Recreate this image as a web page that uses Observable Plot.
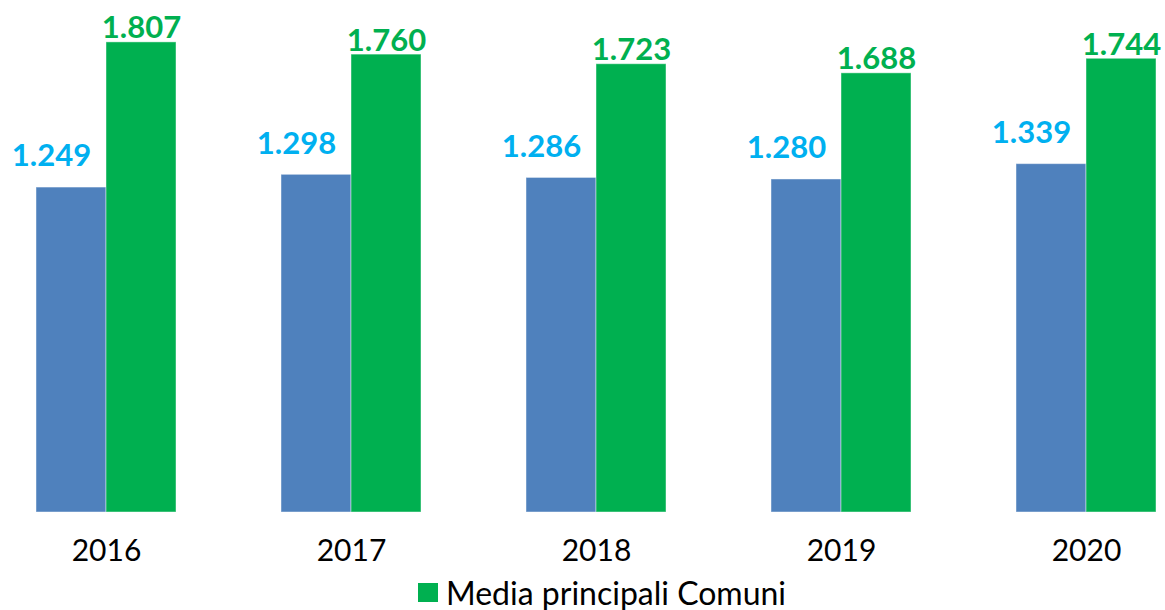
<!DOCTYPE html>
<html>
<head>
<meta charset="utf-8">
<script src="https://cdn.jsdelivr.net/npm/d3@7"></script>
<script src="https://cdn.jsdelivr.net/npm/@observablehq/plot@0.6"></script>
<style>
  html, body { margin: 0; padding: 0; background: #fff; }
  #chart { width: 1165px; }
  .legend { font-family: Lato, "Open Sans", sans-serif; font-size: 32px; color: #000;
            height: 35px; display: flex; align-items: center; padding-left: 418px; }
  .legend .sw { width: 20px; height: 19px; background: #00B050; margin-right: 8px; }
</style>
</head>
<body>
<div id="chart"></div>
<script>
const years = ["2016", "2017", "2018", "2019", "2020"];
const seriesNames = ["Media", "Media principali Comuni"];
const blueValues = [1249, 1298, 1286, 1280, 1339];
const greenValues = [1807, 1760, 1723, 1688, 1744];
const colors = ["#4F81BD", "#00B050"];
const labelColors = ["#00B0F0", "#00B050"];

const data = [];
years.forEach((yr, i) => {
  data.push({year: yr, series: seriesNames[0], value: blueValues[i]});
  data.push({year: yr, series: seriesNames[1], value: greenValues[i]});
});

const itLocale = d3.formatLocale({decimal: ",", thousands: ".", grouping: [3], currency: ["€", ""]});
const fmt = itLocale.format(",d");

const plot = Plot.plot({
  width: 1165,
  height: 575,
  marginTop: 0,
  marginBottom: 63,
  marginLeft: 34,
  marginRight: 8,
  style: {fontFamily: "Lato, 'Open Sans', sans-serif", background: "#fff"},
  fx: {domain: years, paddingInner: 0.43, paddingOuter: 0, label: null},
  x: {domain: seriesNames, padding: 0, axis: null},
  y: {domain: [0, 1968], axis: null},
  color: {domain: seriesNames, range: colors},
  marks: [
    Plot.barY(data, {fx: "year", x: "series", y: "value", fill: "series",
      stroke: "#ffffff", strokeOpacity: 0.45, strokeWidth: 1, inset: 0}),
    Plot.text(data.filter(d => d.series === seriesNames[0]), {
      fx: "year", x: "series", y: "value", text: d => fmt(d.value),
      dy: -31, dx: -20, fill: labelColors[0], fontSize: 31, fontWeight: "bold"}),
    Plot.text(data.filter(d => d.series === seriesNames[1]), {
      fx: "year", x: "series", y: "value", text: d => fmt(d.value),
      dy: -14, dx: 0, fill: labelColors[1], fontSize: 31, fontWeight: "bold"}),
    Plot.axisFx({anchor: "bottom", tickSize: 0, tickPadding: 27, fontSize: 30, label: null, fill: "#000"})
  ]
});

document.getElementById("chart").appendChild(plot);
const legend = document.createElement("div");
legend.className = "legend";
legend.innerHTML = '<div class="sw"></div><span>' + seriesNames[1] + '</span>';
document.getElementById("chart").appendChild(legend);
</script>
</body>
</html>
